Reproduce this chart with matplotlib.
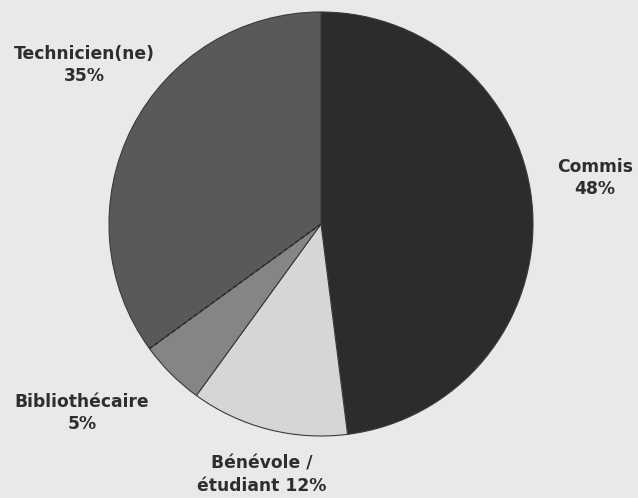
import matplotlib
matplotlib.use("Agg")
import matplotlib.pyplot as plt
import numpy as np

categories = ["Commis", "Bénévole /\nétudiant", "Bibliothécaire", "Technicien(ne)"]
shares = [48, 12, 5, 35]
label_texts = ["Commis\n48%", "Bénévole /\nétudiant 12%", "Bibliothécaire\n5%", "Technicien(ne)\n35%"]
slice_colors = ["#2c2c2c", "#d6d7d5", "#858587", "#59595b"]

W, H = 638, 498
bg = "#e9e9e7"
fig = plt.figure(figsize=(W / 100, H / 100), dpi=100, facecolor=bg)
ax = fig.add_axes([0, 0, 1, 1])

cx, cy, r = 321, H - 224, 212
wedges, _ = ax.pie(shares, colors=slice_colors, startangle=90, counterclock=False,
                   radius=r, center=(cx, cy), frame=True,
                   wedgeprops=dict(edgecolor="#3a3a3a", linewidth=0.8))
ax.set_xlim(0, W)
ax.set_ylim(0, H)
ax.set_aspect("equal")
ax.axis("off")

# dashed boundary between Technicien(ne) and Bibliothécaire
frac = np.cumsum(shares) / sum(shares)
ang = np.deg2rad(90 - 360 * frac[2])
ax.plot([cx, cx + r * np.cos(ang)], [cy, cy + r * np.sin(ang)],
        color="#2a2a2a", lw=1.0, ls=(0, (3, 2)))

label_pos = [(595, 178), (262, 475), (82, 413), (84, 65)]
for txt, (x, y) in zip(label_texts, label_pos):
    ax.text(x, H - y, txt, ha="center", va="center", fontsize=12.3,
            fontweight="bold", color="#2e2e2e", family="DejaVu Sans",
            linespacing=1.35)

fig.savefig("out.png", dpi=100, facecolor=bg)
